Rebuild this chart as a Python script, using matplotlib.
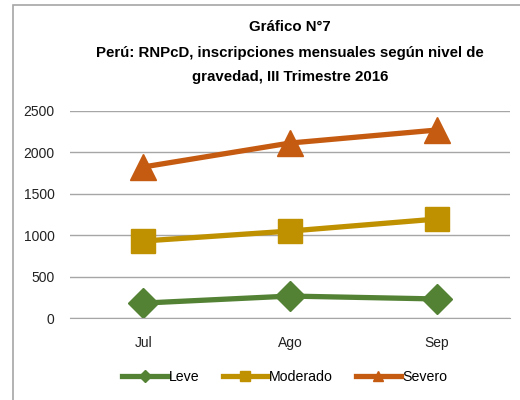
import matplotlib.pyplot as plt
from matplotlib.patches import Rectangle

plt.rcParams['font.family'] = ['Liberation Sans', 'DejaVu Sans']

meses = ['Jul', 'Ago', 'Sep']
leve = [180, 265, 230]
moderado = [930, 1050, 1195]
severo = [1824, 2113, 2270]

fig = plt.figure(figsize=(5.2, 4.0), dpi=100)
ax = fig.add_axes([70 / 520, 82 / 400, 440 / 520, 207 / 400])

x = range(len(meses))
ax.plot(x, leve, color='#548235', lw=3.8, marker='D', ms=15, label='Leve')
ax.plot(x, moderado, color='#BF9000', lw=3.8, marker='s', ms=17, label='Moderado')
ax.plot(x, severo, color='#C55A11', lw=3.8, marker='^', ms=19, label='Severo')

ax.set_xlim(-0.5, 2.5)
ax.set_ylim(0, 2500)
ax.set_yticks([0, 500, 1000, 1500, 2000, 2500])
ax.set_xticks(list(x))
ax.set_xticklabels(meses)
ax.tick_params(length=0, labelsize=10, colors='#222222')
ax.tick_params(axis='x', pad=13)
ax.tick_params(axis='y', pad=11)
ax.grid(axis='y', color='#A6A6A6', lw=1)
ax.set_axisbelow(True)
for s in ['top', 'right', 'left']:
    ax.spines[s].set_visible(False)
ax.spines['bottom'].set_color('#A6A6A6')

titulo = ['Gráfico N°7',
          'Perú: RNPcD, inscripciones mensuales según nivel de',
          'gravedad, III Trimestre 2016']
for t, yp in zip(titulo, [27, 53, 77]):
    fig.text(290 / 520, 1 - yp / 400, t, ha='center', va='center',
             fontsize=10.8, fontweight='bold')

fig.legend(loc='center', bbox_to_anchor=(285 / 520, 1 - 377 / 400), ncol=3,
           frameon=False, fontsize=10.2, markerscale=0.4, handlelength=3.2,
           handletextpad=0.1, columnspacing=1.6)

fig.patches.append(Rectangle((12.5 / 520, -0.1), 1.2, 1 - 5 / 400 + 0.1,
                             transform=fig.transFigure, fill=False,
                             edgecolor='#A6A6A6', lw=1.2))

fig.savefig('out.png', dpi=100)
